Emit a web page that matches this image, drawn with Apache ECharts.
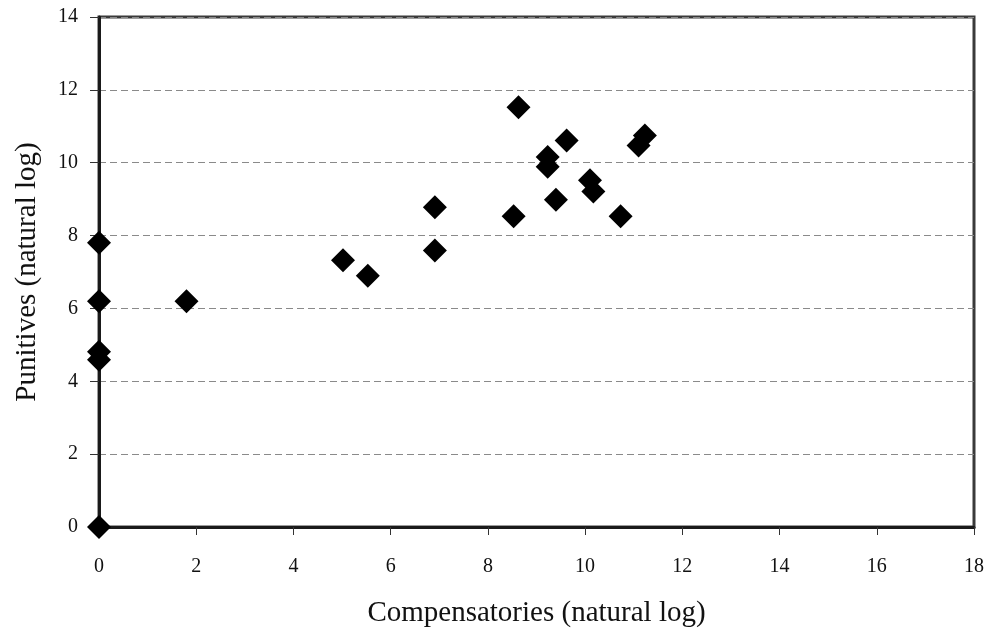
<!DOCTYPE html>
<html>
<head>
<meta charset="utf-8">
<script src="https://cdn.jsdelivr.net/npm/echarts@6/dist/echarts.min.js"></script>
<style>
html,body{margin:0;padding:0;background:#fff;}
#c{width:987px;height:633px;}
</style>
</head>
<body>
<div id="c"></div>
<script>
const xTitle = 'Compensatories (natural log)';
const yTitle = 'Punitives (natural log)';
const compensatories = [0, 0, 0, 0, 0, 1.80, 5.02, 5.53, 6.91, 6.91, 8.53, 8.63, 9.23, 9.23, 9.40, 9.62, 10.10, 10.17, 10.73, 11.10, 11.23];
const punitives      = [7.80, 6.20, 4.81, 4.59, 0, 6.20, 7.32, 6.90, 8.78, 7.59, 8.53, 11.52, 10.16, 9.89, 8.98, 10.61, 9.52, 9.21, 8.53, 10.47, 10.75];
const xTicks = [0, 2, 4, 6, 8, 10, 12, 14, 16, 18];
const yTicks = [0, 2, 4, 6, 8, 10, 12, 14];

const points = compensatories.map((x, i) => [x, punitives[i]]);
const font = '"Liberation Serif", "DejaVu Serif", serif';

const chart = echarts.init(document.getElementById('c'), null, {renderer: 'canvas'});
chart.setOption({
  backgroundColor: '#ffffff',
  animation: false,
  grid: {
    left: 99, right: 12, top: 17, bottom: 101,
    show: true, borderColor: '#3a3a3a', borderWidth: 3, backgroundColor: 'transparent'
  },
  xAxis: {
    type: 'value',
    min: xTicks[0], max: xTicks[xTicks.length - 1], interval: 2,
    name: xTitle,
    nameLocation: 'middle',
    nameGap: 72,
    nameTextStyle: {fontFamily: font, fontSize: 29, color: '#111'},
    axisLine: {show: true, onZero: false, lineStyle: {color: '#1a1a1a', width: 3}},
    axisTick: {show: true, inside: false, length: 8, lineStyle: {color: '#333', width: 1}},
    axisLabel: {fontFamily: font, fontSize: 20, color: '#111', margin: 30},
    splitLine: {show: false}
  },
  yAxis: {
    type: 'value',
    min: yTicks[0], max: yTicks[yTicks.length - 1], interval: 2,
    name: yTitle,
    nameLocation: 'middle',
    nameGap: 57,
    nameRotate: 90,
    nameTextStyle: {fontFamily: font, fontSize: 29, color: '#111'},
    axisLine: {show: true, onZero: false, lineStyle: {color: '#1a1a1a', width: 3}},
    axisTick: {show: true, inside: false, length: 9, lineStyle: {color: '#333', width: 1}},
    axisLabel: {fontFamily: font, fontSize: 20, color: '#111', margin: 21},
    splitLine: {show: true, lineStyle: {color: '#8a8a8a', width: 1, type: [7, 4]}}
  },
  series: [{
    type: 'scatter',
    data: points,
    symbol: 'diamond',
    symbolSize: 24,
    itemStyle: {color: '#000', opacity: 1},
    clip: false,
    z: 10
  }]
});
</script>
</body>
</html>
